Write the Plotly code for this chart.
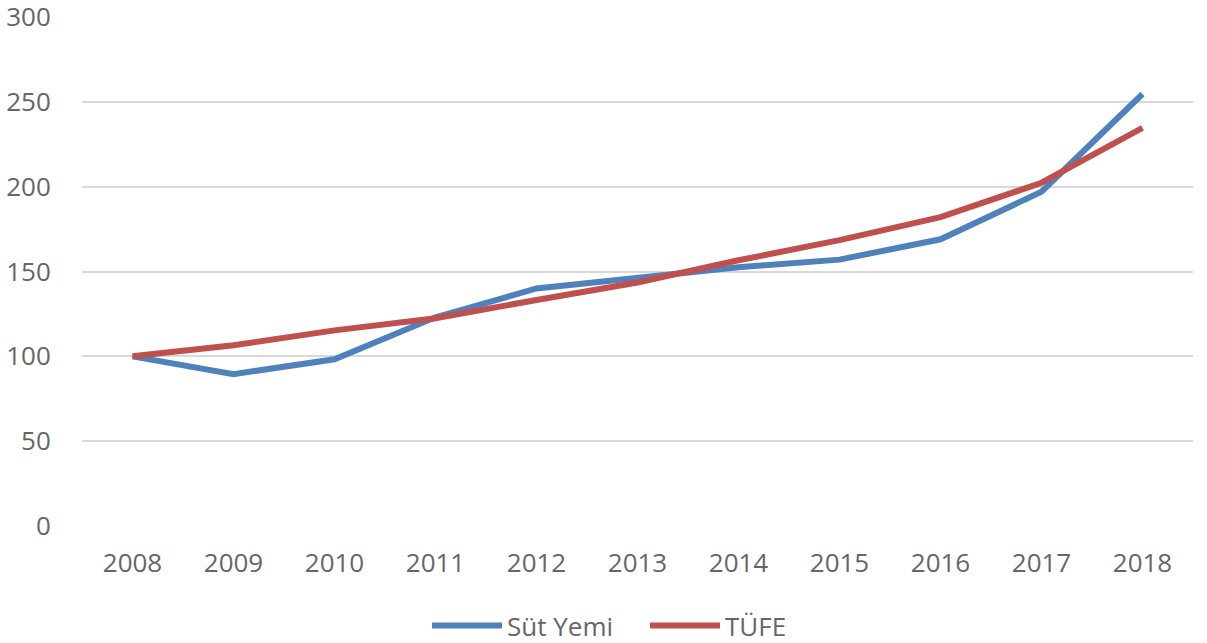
import plotly.graph_objects as go

years = ["2008", "2009", "2010", "2011", "2012", "2013", "2014", "2015", "2016", "2017", "2018"]
sut_yemi = [100, 89.5, 98.3, 123, 140, 146.5, 152.5, 157, 169, 197, 254.6]
tufe = [100, 106.5, 115.3, 122.5, 133.2, 143.5, 156.6, 168.5, 182, 202.3, 234.7]

fig = go.Figure()
fig.add_trace(go.Scatter(x=years, y=sut_yemi, mode="lines", name="Süt Yemi",
                         line=dict(color="#4F81BD", width=6)))
fig.add_trace(go.Scatter(x=years, y=tufe, mode="lines", name="TÜFE",
                         line=dict(color="#C0504D", width=6)))

font = dict(family="Open Sans, Segoe UI, sans-serif", size=26, color="#666666")
fig.update_layout(
    width=1207, height=643,
    margin=dict(l=82, r=14, t=17, b=117),
    paper_bgcolor="white", plot_bgcolor="white",
    font=font,
    showlegend=True,
    legend=dict(orientation="h", xref="container", yref="container",
                x=0.5344, xanchor="center", y=0.027, yanchor="middle",
                font=font, itemwidth=70, entrywidth=133),
    xaxis=dict(type="category", range=[-0.5, 10.5], showgrid=False, zeroline=False,
               showline=False, ticks="outside", ticklen=14, tickcolor="rgba(0,0,0,0)",
               tickfont=font, automargin=False, ticklabeloverflow="allow"),
    yaxis=dict(range=[0, 300], tickvals=[0, 50, 100, 150, 200, 250, 300],
               showgrid=True, gridcolor="#D9D9D9", gridwidth=1.5, zeroline=False,
               showline=False, ticks="outside", ticklen=25, tickcolor="rgba(0,0,0,0)",
               tickfont=font, automargin=False, ticklabeloverflow="allow"),
)
fig.write_html("out.html", config={"displayModeBar": False},
               post_script="document.body.style.margin='0';document.body.style.overflow='hidden';")
